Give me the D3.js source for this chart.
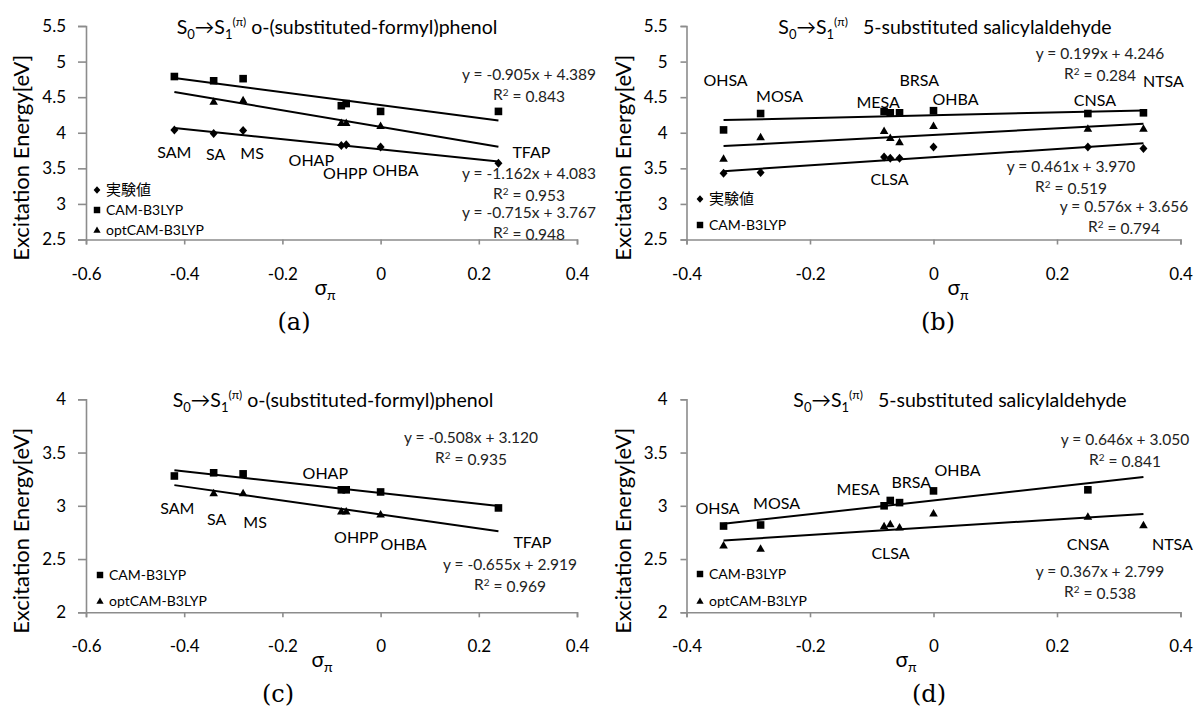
<!DOCTYPE html>
<html>
<head>
<meta charset="utf-8">
<script src="https://cdn.jsdelivr.net/npm/d3@7/dist/d3.min.js"></script>
<style>
  body { margin: 0; background: #fff; }
  svg text { font-family: Lato, "Noto Sans", sans-serif; }
</style>
</head>
<body>
<script>
// ---- data ----
// o-(substituted-formyl)phenol, panels (a) and (c)
var namesAC = ["SAM", "SA", "MS", "OHAP", "OHPP", "OHBA", "TFAP"];
var sigmaAC = [-0.42, -0.34, -0.28, -0.08, -0.07, 0, 0.24];
var expA = [4.04, 3.99, 4.03, 3.82, 3.83, 3.80, 3.57];
var camA = [4.79, 4.73, 4.76, 4.38, 4.41, 4.30, 4.30];
var optA = [null, 4.44, 4.46, 4.14, 4.14, 4.10, null]; // end markers not shown
var camC = [3.28, 3.31, 3.30, 3.15, 3.15, 3.13, 2.98];
var optC = [null, 3.12, 3.12, 2.95, 2.95, 2.92, null];

// 5-substituted salicylaldehyde, panels (b) and (d)
var namesBD = ["OHSA", "MOSA", "MESA", "BRSA", "CLSA", "OHBA", "CNSA", "NTSA"];
var sigmaBD = [-0.34, -0.28, -0.08, -0.07, -0.055, 0, 0.25, 0.34];
var expB = [3.43, 3.44, 3.66, 3.64, 3.64, 3.80, 3.80, 3.78];
var camB = [4.04, 4.27, 4.30, 4.28, 4.28, 4.31, 4.27, 4.28];
var optB = [3.64, 3.94, 4.03, 3.93, 3.87, 4.10, 4.06, 4.06];
var camD = [2.81, 2.82, 3.00, 3.05, 3.03, 3.14, 3.15, null];
var optD = [2.63, 2.60, 2.81, 2.83, 2.80, 2.93, 2.90, 2.82];

// trendline equations as printed: [slope, intercept, R2]
var fitExpA = [-0.715, 3.767, 0.948], fitCamA = [-0.905, 4.389, 0.843], fitOptA = [-1.162, 4.083, 0.953];
var fitExpB = [0.576, 3.656, 0.794], fitCamB = [0.199, 4.246, 0.284], fitOptB = [0.461, 3.970, 0.519];
var fitCamC = [-0.508, 3.120, 0.935], fitOptC = [-0.655, 2.919, 0.969];
var fitCamD = [0.646, 3.050, 0.841], fitOptD = [0.367, 2.799, 0.538];

var xTicksAC = [-0.6, -0.4, -0.2, 0, 0.2, 0.4];
var xTicksBD = [-0.4, -0.2, 0, 0.2, 0.4];
var yTicksTop = [2.5, 3, 3.5, 4, 4.5, 5, 5.5];
var yTicksBottom = [2, 2.5, 3, 3.5, 4];

var legendExp = "実験値", legendCam = "CAM-B3LYP", legendOpt = "optCAM-B3LYP";

// ---- drawing ----
var W = 1196, H = 711;
var svg = d3.select("body").append("svg").attr("width", W).attr("height", H);
svg.append("rect").attr("width", W).attr("height", H).attr("fill", "#fff");

var shapes = {
  diamond: "M0,-4.5L4,0L0,4.5L-4,0Z",
  square: "M-3.8,-3.8h7.6v7.6h-7.6Z",
  triangle: "M0,-4.2L4.3,3.3H-4.3Z"
};
var axisColor = "#8c8c8c";

function fmt3(v) { return v.toFixed(3); }

function drawPanel(p) {
  var x = d3.scaleLinear().domain(p.xDomain).range([p.x0, p.x1]);
  var y = d3.scaleLinear().domain(p.yDomain).range([p.y0, p.y1]);
  var g = svg.append("g");

  // axes
  var gx = g.append("g").attr("transform", "translate(0," + p.y0 + ")")
    .call(d3.axisBottom(x).tickValues(p.xTicks).tickFormat(String).tickSize(5).tickPadding(23));
  var gy = g.append("g").attr("transform", "translate(" + p.x0 + ",0)")
    .call(d3.axisLeft(y).tickValues(p.yTicks).tickFormat(String).tickSize(p.yTick).tickSizeOuter(p.yTick).tickPadding(p.yPad));
  [gx, gy].forEach(function (a) {
    a.attr("font-family", null).attr("font-size", null);
    a.selectAll("path, line").attr("stroke", axisColor).attr("stroke-width", 1.6);
    a.selectAll("text").attr("fill", "#000").style("font-size", "17px");
  });

  // trendlines
  var xmin = d3.min(p.sigma), xmax = d3.max(p.sigma);
  p.series.forEach(function (s) {
    g.append("line")
      .attr("x1", x(xmin)).attr("y1", y(s.fit[0] * xmin + s.fit[1]))
      .attr("x2", x(xmax)).attr("y2", y(s.fit[0] * xmax + s.fit[1]))
      .attr("stroke", "#000").attr("stroke-width", 2);
  });

  // markers
  p.series.forEach(function (s) {
    g.selectAll(null).data(p.sigma.map(function (sx, i) { return [sx, s.values[i]]; })
      .filter(function (d) { return d[1] != null; }))
      .enter().append("path")
      .attr("d", shapes[s.shape])
      .attr("transform", function (d) { return "translate(" + x(d[0]) + "," + y(d[1]) + ")"; })
      .attr("fill", "#000");
  });

  // compound labels
  g.selectAll(null).data(p.names).enter().append("text")
    .attr("x", function (d, i) { return x(p.sigma[i]) + p.labelDx[i]; })
    .attr("y", function (d, i) { return p.labelY[i]; })
    .attr("dy", "0.36em")
    .attr("text-anchor", "middle")
    .style("font-size", "16px")
    .text(function (d) { return d; });

  // equations
  p.series.forEach(function (s) {
    if (!s.eqPos) return;
    var f = s.fit;
    g.append("text").attr("x", s.eqPos[0]).attr("y", s.eqPos[1]).attr("dy", "0.36em")
      .attr("text-anchor", "middle").attr("fill", "#222").style("font-size", "15.5px")
      .text("y = " + fmt3(f[0]) + "x + " + fmt3(f[1]));
    var r = g.append("text").attr("x", s.eqPos[0]).attr("y", s.eqPos[1] + 20).attr("dy", "0.36em")
      .attr("text-anchor", "middle").attr("fill", "#222").style("font-size", "15.5px");
    r.append("tspan").text("R");
    r.append("tspan").attr("dy", "-0.4em").style("font-size", "10px").text("2");
    r.append("tspan").attr("dy", "0.4em").text(" = " + fmt3(f[2]));
  });

  // legend
  p.legend.forEach(function (l, i) {
    var ly = p.legendY[i];
    g.append("path").attr("d", shapes[l.shape])
      .attr("transform", "translate(" + p.legendX + "," + ly + ") scale(0.85)")
      .attr("fill", "#000");
    g.append("text").attr("x", p.legendX + 9).attr("y", ly).attr("dy", "0.36em")
      .style("font-family", l.cjk ? "'Noto Sans CJK JP', sans-serif" : null)
      .style("font-size", l.cjk ? "15px" : "14px")
      .text(l.text);
  });

  // title
  var t = g.append("text").attr("x", p.titleX).attr("y", p.titleY)
    .attr("text-anchor", "middle").style("font-size", "19.5px");
  t.append("tspan").text("S");
  t.append("tspan").attr("dy", 5).style("font-size", "13px").text("0");
  t.append("tspan").attr("dy", -5).text("→S");
  t.append("tspan").attr("dy", 5).style("font-size", "13px").text("1");
  t.append("tspan").attr("dy", -13).style("font-size", "12px").text("(π)");
  t.append("tspan").attr("dy", 8).style("white-space", "pre").text(p.titleRest);

  // y title
  g.append("text")
    .attr("transform", "translate(" + p.yTitleX + "," + ((p.y0 + p.y1) / 2 + 25) + ") rotate(-90)")
    .attr("text-anchor", "middle").style("font-size", "22px")
    .text("Excitation Energy[eV]");

  // x title
  var xt = g.append("text").attr("x", p.xTitleX).attr("y", p.y0 + 55).attr("text-anchor", "middle")
    .style("font-size", "21px");
  xt.append("tspan").text("σ");
  xt.append("tspan").attr("dy", 5).style("font-size", "14px").text("π");

  // panel tag
  g.append("text").attr("x", p.tagX).attr("y", p.y0 + 90).attr("text-anchor", "middle")
    .style("font-family", "'DejaVu Serif', serif").style("font-size", "24px")
    .text(p.tag);
}

var panels = [
  {
    tag: "(a)", sigma: sigmaAC, names: namesAC,
    xDomain: [-0.6, 0.4], xTicks: xTicksAC, yDomain: [2.5, 5.5], yTicks: yTicksTop,
    x0: 86, x1: 577, y0: 239.5, y1: 26, yTick: 8, yPad: 12,
    series: [
      { values: expA, shape: "diamond", fit: fitExpA, eqPos: [529, 212] },
      { values: camA, shape: "square", fit: fitCamA, eqPos: [529, 74] },
      { values: optA, shape: "triangle", fit: fitOptA, eqPos: [529, 173] }
    ],
    labelDx: [0, 2, 9, -30, -1, 15, 33],
    labelY: [152, 154, 153, 160, 173, 170, 152],
    legend: [{ shape: "diamond", text: legendExp, cjk: true }, { shape: "square", text: legendCam }, { shape: "triangle", text: legendOpt }],
    legendX: 97, legendY: [190, 210, 230],
    titleX: 337, titleY: 34, titleRest: "\u00a0o-(substituted-formyl)phenol",
    yTitleX: 29, xTitleX: 325, tagX: 294
  },
  {
    tag: "(b)", sigma: sigmaBD, names: namesBD,
    xDomain: [-0.4, 0.4], xTicks: xTicksBD, yDomain: [2.5, 5.5], yTicks: yTicksTop,
    x0: 686.5, x1: 1180.5, y0: 239.5, y1: 26, yTick: 6, yPad: 13,
    series: [
      { values: expB, shape: "diamond", fit: fitExpB, eqPos: [1124, 206] },
      { values: camB, shape: "square", fit: fitCamB, eqPos: [1100, 53] },
      { values: optB, shape: "triangle", fit: fitOptB, eqPos: [1071, 166] }
    ],
    labelDx: [2, 19, -6, 29, -10, 22, 7, 20],
    labelY: [80, 96, 102, 80, 179, 99, 100, 81],
    legend: [{ shape: "diamond", text: legendExp, cjk: true }, { shape: "square", text: legendCam }],
    legendX: 700, legendY: [199, 225],
    titleX: 945, titleY: 34, titleRest: "\u00a0\u00a0 5-substituted salicylaldehyde",
    yTitleX: 631, xTitleX: 958, tagX: 938
  },
  {
    tag: "(c)", sigma: sigmaAC, names: namesAC,
    xDomain: [-0.6, 0.4], xTicks: xTicksAC, yDomain: [2, 4], yTicks: yTicksBottom,
    x0: 86, x1: 577, y0: 612.3, y1: 399.3, yTick: 8, yPad: 12,
    series: [
      { values: camC, shape: "square", fit: fitCamC, eqPos: [471, 437] },
      { values: optC, shape: "triangle", fit: fitOptC, eqPos: [510, 564] }
    ],
    labelDx: [3, 3, 12, -16, 10, 23, 34],
    labelY: [508, 519, 522, 473, 537, 544, 542],
    legend: [{ shape: "square", text: legendCam }, { shape: "triangle", text: legendOpt }],
    legendX: 100, legendY: [575, 601],
    titleX: 333, titleY: 407, titleRest: "\u00a0o-(substituted-formyl)phenol",
    yTitleX: 29, xTitleX: 322, tagX: 278
  },
  {
    tag: "(d)", sigma: sigmaBD, names: namesBD,
    xDomain: [-0.4, 0.4], xTicks: xTicksBD, yDomain: [2, 4], yTicks: yTicksBottom,
    x0: 686.5, x1: 1180.5, y0: 612.3, y1: 399.3, yTick: 6, yPad: 13,
    series: [
      { values: camD, shape: "square", fit: fitCamD, eqPos: [1125, 439] },
      { values: optD, shape: "triangle", fit: fitOptD, eqPos: [1100, 571] }
    ],
    labelDx: [-6, 16, -26, 21, -9, 24, 0, 29],
    labelY: [508, 503, 489, 482, 553, 470, 544, 544],
    legend: [{ shape: "square", text: legendCam }, { shape: "triangle", text: legendOpt }],
    legendX: 700, legendY: [574, 601],
    titleX: 960, titleY: 407, titleRest: "\u00a0\u00a0 5-substituted salicylaldehyde",
    yTitleX: 631, xTitleX: 906, tagX: 929
  }
];

panels.forEach(drawPanel);
</script>
</body>
</html>
